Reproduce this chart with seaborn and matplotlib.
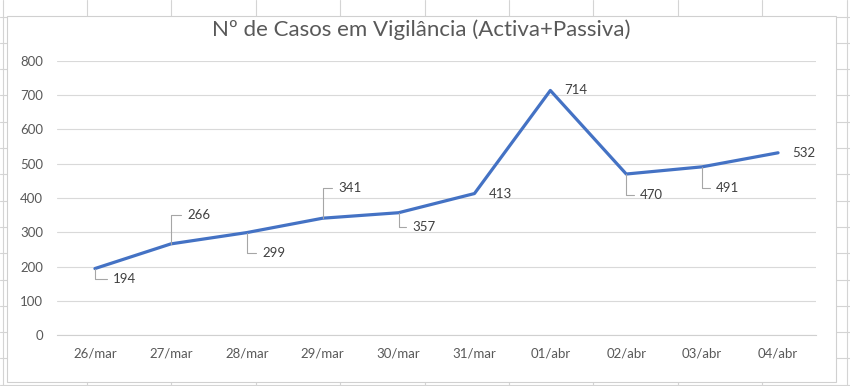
import matplotlib
matplotlib.use("Agg")
import matplotlib.pyplot as plt
import numpy as np
import pandas as pd
import seaborn as sns
from matplotlib.lines import Line2D
from matplotlib.patches import Rectangle

# Data
dias = ["26/mar", "27/mar", "28/mar", "29/mar", "30/mar",
        "31/mar", "01/abr", "02/abr", "03/abr", "04/abr"]
casos = [194, 266, 299, 341, 357, 413, 714, 470, 491, 532]
titulo = "Nº de Casos em Vigilância (Activa+Passiva)"

# label offsets (points) and whether excel drew a leader line
offsets = [(13, -7.5, True), (12, 21, True), (11, -15, True), (11, 22, True),
           (10, -10, True), (10, 0, False), (10, 0, False), (10, -15, True),
           (10, -15, True), (10, 0, False)]

df = pd.DataFrame({"dia": dias, "casos": casos})

sns.set_theme(style="white")
plt.rcParams["font.family"] = ["Lato", "DejaVu Sans"]

W, H = 850, 386
fig = plt.figure(figsize=(W / 100, H / 100), dpi=100)
fig.patch.set_facecolor("white")

# excel cell grid behind the chart
for x in np.arange(2.5, W, 84.4):
    fig.add_artist(Line2D([x / W, x / W], [0, 1], color="#d4d4d4", lw=0.8, zorder=-3))
for y in np.arange(16.5, H, 26.3):
    fig.add_artist(Line2D([0, 1], [1 - y / H, 1 - y / H], color="#d4d4d4", lw=0.8, zorder=-3))
fig.add_artist(Rectangle((7 / W, 1 - 382 / H), 829 / W, 366 / H, facecolor="white",
                         edgecolor="#d0d0d0", lw=0.8, zorder=-2))

ax = fig.add_axes([57 / W, 1 - 335 / H, 759 / W, 274 / H])
ax.set_facecolor("none")

sns.lineplot(data=df, x="dia", y="casos", ax=ax, color="#4472C4", linewidth=2.3, sort=False)

ax.set_xlim(-0.5, len(dias) - 0.5)
ax.set_ylim(0, 800)
ax.set_yticks(range(0, 801, 100))
ax.yaxis.grid(True, color="#d9d9d9", lw=0.8)
ax.set_axisbelow(True)
ax.set_xlabel("")
ax.set_ylabel("")

for s in ["top", "right", "left"]:
    ax.spines[s].set_visible(False)
ax.spines["bottom"].set_color("#d0d0d0")
ax.spines["bottom"].set_linewidth(0.8)

ax.set_xticks(np.arange(-0.5, len(dias), 1), minor=True)
ax.tick_params(axis="x", which="major", length=0, pad=9, labelsize=9.5, labelcolor="#595959")
ax.tick_params(axis="x", which="minor", length=4, color="#d0d0d0", width=0.8, direction="out")
ax.tick_params(axis="y", length=0, pad=10, labelsize=9.5, labelcolor="#595959")

for i, (v, (dx, dy, leader)) in enumerate(zip(casos, offsets)):
    arrow = None
    if leader:
        arrow = dict(arrowstyle="-", color="#a6a6a6", lw=0.8, shrinkA=2, shrinkB=0,
                     relpos=(0, 0.5), connectionstyle="angle,angleA=0,angleB=90,rad=0")
    ax.annotate(str(v), xy=(i, v), xytext=(dx, dy), textcoords="offset points",
                ha="left", va="center", fontsize=9.5, color="#404040", arrowprops=arrow)

fig.text(421 / W, 1 - 30 / H, titulo, ha="center", va="center", fontsize=16,
         color="#595959")

fig.savefig("out.png", dpi=100)
